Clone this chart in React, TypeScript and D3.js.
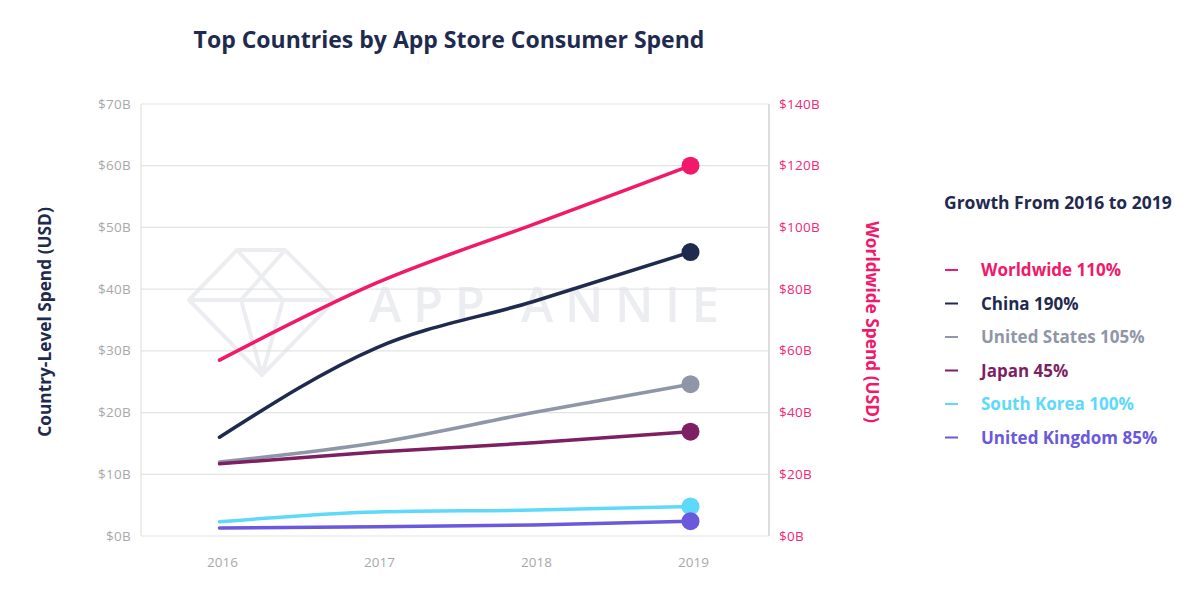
import React from "react";
import * as d3 from "d3";

const years = ["2016", "2017", "2018", "2019"];
const worldwide = [57, 82, 101, 120];
const china = [16, 30.5, 38, 46];
const unitedStates = [12, 15.1, 20, 24.6];
const japan = [11.7, 13.6, 15.1, 16.9];
const southKorea = [2.3, 3.9, 4.2, 4.8];
const unitedKingdom = [1.3, 1.5, 1.8, 2.4];
const leftTicks = [0, 10, 20, 30, 40, 50, 60, 70];
const rightTicks = [0, 20, 40, 60, 80, 100, 120, 140];
const legendLabels = [
  "Worldwide 110%",
  "China 190%",
  "United States 105%",
  "Japan 45%",
  "South Korea 100%",
  "United Kingdom 85%",
];

const NAVY = "#1f2a4f";
const PINK = "#f2186a";

const series = [
  { name: "Worldwide", values: worldwide, color: PINK, axis: "right" },
  { name: "China", values: china, color: NAVY, axis: "left" },
  { name: "United States", values: unitedStates, color: "#8e96a8", axis: "left" },
  { name: "Japan", values: japan, color: "#7d1f62", axis: "left" },
  { name: "South Korea", values: southKorea, color: "#5dd9f9", axis: "left" },
  { name: "United Kingdom", values: unitedKingdom, color: "#6a58dd", axis: "left" },
];

const FONT = "'Open Sans', sans-serif";

export default function App() {
  const W = 1200, H = 593;
  const left = 141, right = 769, top = 104, bottom = 536;
  const x = d3.scalePoint<string>().domain(years).range([left, right]).padding(0.5);
  const yL = d3.scaleLinear().domain([0, 70]).range([bottom, top]);
  const yR = d3.scaleLinear().domain([0, 140]).range([bottom, top]);

  const lineFor = (s: typeof series[number]) => {
    const ys = s.axis === "right" ? yR : yL;
    return d3
      .line<number>()
      .x((_, i) => x(years[i])!)
      .y((v) => ys(v))
      .curve(d3.curveMonotoneX)(s.values) as string;
  };

  return (
    <svg width={W} height={H} style={{ position: "absolute", left: 0, top: 0, background: "#fff" }}>
      <rect x={0} y={0} width={W} height={H} fill="#fff" />
      {/* watermark */}
      <g stroke="#ecedf1" strokeWidth={4} fill="none" strokeLinejoin="round">
        <polygon points="189,300 237,250 285,250 335,300 262,375" />
        <polyline points="189,300 335,300" />
        <polyline points="237,250 283,300 262,375" />
        <polyline points="285,250 241,300 262,375" />
      </g>
      <text x={369} y={322} fontFamily={FONT} fontSize={49} fill="#ecedf1" fontWeight={600}
        textLength={350} lengthAdjust="spacing">
        APP ANNIE
      </text>
      {/* gridlines */}
      {leftTicks.map((t) => (
        <line key={t} x1={left} x2={right} y1={yL(t)} y2={yL(t)} stroke="#e3e3e3" strokeWidth={1.2} />
      ))}
      <line x1={left} x2={left} y1={top} y2={bottom} stroke="#e3e3e3" strokeWidth={1.2} />
      <line x1={right} x2={right} y1={top} y2={bottom} stroke="#cfcfcf" strokeWidth={1.4} />
      {/* tick labels */}
      {leftTicks.map((t) => (
        <text key={t} x={131} y={yL(t) + 4.5} textAnchor="end" fontFamily={FONT} fontSize={13.5} letterSpacing={0.3} fill="#a8a8a8">
          ${t}B
        </text>
      ))}
      {rightTicks.map((t) => (
        <text key={t} x={779} y={yR(t) + 4.5} textAnchor="start" fontFamily={FONT} fontSize={13.5} letterSpacing={0.3} fill="#f0287a">
          ${t}B
        </text>
      ))}
      {years.map((yv) => (
        <text key={yv} x={x(yv)! + 3} y={567} textAnchor="middle" fontFamily={FONT} fontSize={13.5} fill="#a8a8a8">
          {yv}
        </text>
      ))}
      {/* lines */}
      {series.map((s) => (
        <path key={s.name} d={lineFor(s)} fill="none" stroke={s.color} strokeWidth={3.5} strokeLinecap="round" />
      ))}
      {series.map((s) => {
        const ys = s.axis === "right" ? yR : yL;
        const last = s.values.length - 1;
        return <circle key={s.name} cx={x(years[last])!} cy={ys(s.values[last])} r={9} fill={s.color} />;
      })}
      {/* axis titles */}
      <text transform="translate(51,322) rotate(-90)" textAnchor="middle" fontFamily={FONT} fontWeight={700} fontSize={17.3} fill={NAVY}>
        Country-Level Spend (USD)
      </text>
      <text transform="translate(866,322) rotate(90)" textAnchor="middle" fontFamily={FONT} fontWeight={700} fontSize={17.3} fill={PINK}>
        Worldwide Spend (USD)
      </text>
      {/* title */}
      <text x={449} y={48} textAnchor="middle" fontFamily={FONT} fontWeight={700} fontSize={23} fill={NAVY}>
        Top Countries by App Store Consumer Spend
      </text>
      {/* legend */}
      <text x={944} y={209} fontFamily={FONT} fontWeight={700} fontSize={17.5} fill={NAVY}>
        Growth From 2016 to 2019
      </text>
      {series.map((s, i) => (
        <g key={s.name}>
          <line x1={945} x2={958} y1={270 + i * 33.5} y2={270 + i * 33.5} stroke={s.color} strokeWidth={2} />
          <text x={981} y={276 + i * 33.5} fontFamily={FONT} fontWeight={700} fontSize={17} fill={s.color}>
            {legendLabels[i]}
          </text>
        </g>
      ))}
    </svg>
  );
}
